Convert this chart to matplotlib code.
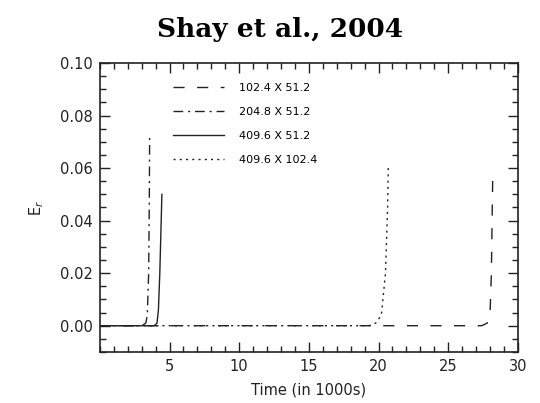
import matplotlib
matplotlib.use('Agg')
import matplotlib.pyplot as plt
from matplotlib.ticker import MultipleLocator

# grid sizes (legend labels)
labels = ['102.4 X 51.2', '204.8 X 51.2', '409.6 X 51.2', '409.6 X 102.4']

# time in 1000s and reconnection rate E_r
t_a = [0.0, 27.4, 27.8, 28.0, 28.1, 28.15, 28.2]
e_a = [0.0, 0.0, 0.001, 0.004, 0.02, 0.04, 0.058]

t_b = [0.0, 3.0, 3.3, 3.4, 3.5, 3.55, 3.57]
e_b = [0.0, 0.0, 0.001, 0.004, 0.02, 0.05, 0.072]

t_c = [0.0, 3.9, 4.1, 4.2, 4.3, 4.4, 4.45]
e_c = [0.0, 0.0, 0.001, 0.006, 0.02, 0.04, 0.050]

t_d = [0.0, 19.3, 19.8, 20.2, 20.5, 20.65, 20.7]
e_d = [0.0, 0.0, 0.001, 0.004, 0.02, 0.045, 0.060]

plt.rcParams['font.family'] = 'DejaVu Sans'
col = '#222222'

fig = plt.figure(figsize=(5.4, 4.03), dpi=100)
ax = fig.add_axes([0.185, 0.1266, 0.774, 0.7171])

ax.plot(t_a, e_a, color=col, lw=1.0, dashes=(8, 9), label=labels[0])
ax.plot(t_b, e_b, color=col, lw=1.0, dashes=(7, 3.5, 1.5, 3.5), label=labels[1])
ax.plot(t_c, e_c, color=col, lw=1.0, label=labels[2])
ax.plot(t_d, e_d, color=col, lw=1.0, dashes=(1.5, 3.0), label=labels[3])

ax.set_xlim(0, 30)
ax.set_ylim(-0.01, 0.10)
ax.set_xticks([5, 10, 15, 20, 25, 30])
ax.set_yticks([0.0, 0.02, 0.04, 0.06, 0.08, 0.10])
ax.set_yticklabels(['0.00', '0.02', '0.04', '0.06', '0.08', '0.10'])
ax.xaxis.set_minor_locator(MultipleLocator(1))
ax.yaxis.set_minor_locator(MultipleLocator(0.005))
ax.tick_params(which='both', direction='in', top=True, right=True, width=1, colors=col, labelsize=10.5, pad=5)
ax.tick_params(which='major', length=7)
ax.tick_params(which='minor', length=4)
for s in ax.spines.values():
    s.set_linewidth(1.2)
    s.set_color(col)

ax.set_xlabel('Time (in 1000s)', fontsize=10.5, color=col, labelpad=6)
ax.set_ylabel('E$_r$', fontsize=10.5, color=col, labelpad=10)

ax.legend(loc='upper left', bbox_to_anchor=(0.15, 0.965), frameon=False, fontsize=8,
          handlelength=4.6, labelspacing=1.25, handletextpad=1.4)

fig.text(0.518, 0.928, 'Shay et al., 2004', ha='center', va='center',
         fontsize=19, fontweight='bold', family='DejaVu Serif')

fig.savefig('out.png', dpi=100)
